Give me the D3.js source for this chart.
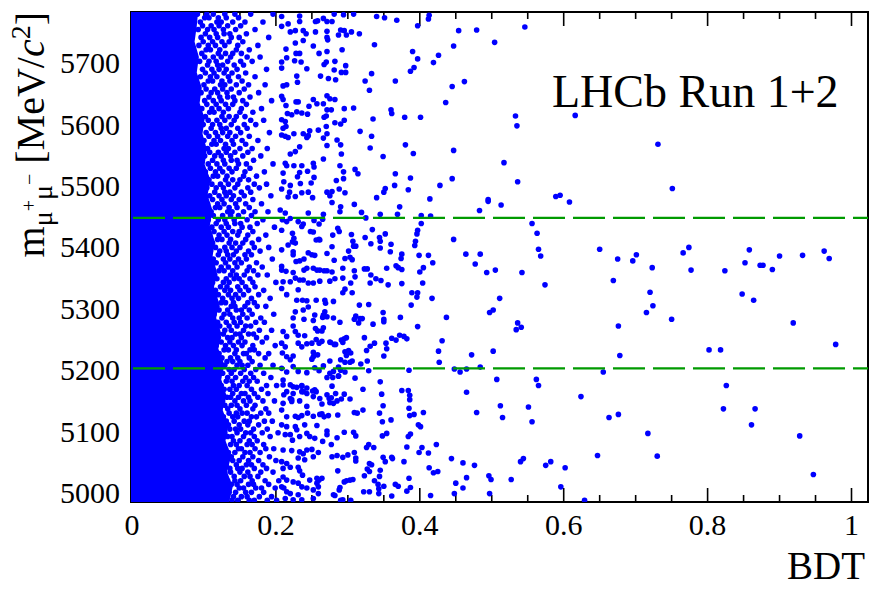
<!DOCTYPE html>
<html><head><meta charset="utf-8">
<script src="https://cdn.jsdelivr.net/npm/d3@7"></script>
<style>html,body{margin:0;padding:0;background:#fff}svg{display:block}
text{font-family:"Liberation Serif","DejaVu Serif","Noto Serif",serif}</style>
</head><body><svg id="c" width="872" height="589"></svg>
<script>
// ---------------- data ----------------
const xMajorTicks = [0, 0.2, 0.4, 0.6, 0.8, 1];
const xTickLabels = ["0", "0.2", "0.4", "0.6", "0.8", "1"];
const xMinorTicks = [0.05,0.1,0.15,0.25,0.3,0.35,0.45,0.5,0.55,0.65,0.7,0.75,0.85,0.9,0.95];
const yMajorTicks = [5000, 5100, 5200, 5300, 5400, 5500, 5600, 5700];
const yTickLabels = ["5000", "5100", "5200", "5300", "5400", "5500", "5600", "5700"];
const windowMass = [5203, 5448];
const xDomain = [-0.00139, 1.02293];
const yDomain = [4985.3, 5783.4];

// saturated (fully overlapping) region: BDT edge per mass
const coreMass = [4985,5010,5035,5060,5085,5110,5135,5160,5185,5210,5235,5260,5285,5310,5335,5360,5385,5410,5435,5460,5485,5510,5535,5560,5585,5610,5635,5660,5685,5710,5735,5760,5785];
const coreEdge = [0.135,0.140,0.132,0.138,0.130,0.134,0.126,0.131,0.124,0.128,0.120,0.124,0.117,0.121,0.114,0.118,0.112,0.115,0.108,0.112,0.105,0.109,0.101,0.104,0.098,0.101,0.094,0.097,0.090,0.093,0.087,0.090,0.092];

// dense band: [mass, bdt, bdt, ...]
const denseRows = [
[4988,.128,.139,.147,.163,.170,.188,.201],[4994,.141,.152,.160,.177,.194],[5001,.135,.144,.158,.166,.183],
[5008,.131,.149,.155,.172,.180,.199],[5014,.138,.146,.162,.169,.190],[5020,.133,.143,.151,.167,.185,.204],
[5027,.142,.156,.164,.175],[5034,.129,.137,.150,.161,.179,.196],[5040,.136,.147,.153,.170,.187],
[5046,.131,.145,.159,.166,.182],[5053,.140,.149,.162,.176,.200],[5059,.127,.138,.154,.168,.191],
[5066,.134,.143,.157,.164,.178],[5072,.130,.148,.152,.171,.186,.197],[5079,.137,.145,.160,.167,.183],
[5085,.125,.141,.150,.163,.174],[5092,.133,.139,.155,.170,.192],[5098,.129,.146,.158,.165,.181,.203],
[5104,.136,.144,.151,.169,.188],[5111,.124,.134,.149,.161,.176],[5117,.131,.142,.156,.163,.184,.195],
[5124,.127,.140,.147,.166,.173],[5130,.135,.145,.153,.160,.179,.190],[5137,.122,.133,.150,.168,.186],
[5143,.129,.138,.146,.159,.171],[5150,.126,.143,.155,.164,.182,.198],[5156,.132,.137,.148,.162,.175],
[5162,.121,.140,.152,.157,.170,.189],[5169,.128,.136,.145,.166,.180],[5175,.124,.141,.149,.160,.187,.201],
[5182,.131,.139,.154,.163,.174],[5188,.120,.133,.144,.158,.169,.193],[5195,.126,.138,.151,.165,.183],
[5201,.123,.135,.142,.156,.172],[5208,.129,.146,.153,.161,.178,.196],[5214,.118,.132,.140,.150,.167],
[5220,.125,.137,.147,.163,.185],[5227,.121,.143,.155,.159,.176,.190],[5233,.128,.134,.145,.164,.170],
[5240,.117,.130,.141,.153,.168,.199],[5246,.124,.136,.148,.157,.181],[5253,.120,.133,.139,.152,.173,.187],
[5259,.127,.144,.150,.162,.169],[5265,.116,.129,.138,.155,.177,.194],[5272,.122,.135,.146,.158,.165],
[5278,.119,.131,.142,.151,.172,.184],[5285,.125,.140,.149,.160,.179],[5291,.114,.128,.136,.154,.167,.197],
[5298,.121,.133,.145,.152,.163],[5304,.118,.138,.143,.157,.174,.186],[5310,.124,.130,.141,.161,.170],
[5317,.113,.126,.139,.148,.166,.192],[5323,.120,.134,.144,.155,.176],[5330,.116,.129,.137,.150,.162,.183],
[5336,.123,.132,.147,.158,.171],[5343,.112,.127,.135,.153,.168,.200],[5349,.118,.131,.142,.149,.164],
[5355,.115,.137,.145,.156,.175,.188],[5362,.121,.128,.140,.160,.169],[5368,.110,.124,.134,.146,.163,.181],
[5375,.117,.130,.143,.152,.173],[5381,.113,.127,.136,.148,.159,.195],[5388,.120,.133,.141,.157,.166],
[5394,.109,.122,.131,.145,.162,.178],[5400,.116,.129,.139,.150,.170,.190],[5407,.112,.135,.144,.154,.167],
[5413,.119,.125,.137,.158,.176],[5420,.108,.121,.132,.147,.161,.186],[5426,.114,.128,.140,.149,.168],
[5433,.111,.124,.134,.153,.164,.198],[5439,.117,.131,.143,.151,.174],[5445,.106,.120,.129,.142,.160,.182],
[5452,.113,.126,.137,.148,.166],[5458,.110,.133,.139,.155,.171,.189],[5465,.116,.122,.135,.146,.163],
[5471,.105,.119,.128,.144,.158,.180],[5478,.112,.125,.138,.149,.168],[5484,.108,.121,.131,.141,.156,.193],
[5490,.115,.129,.136,.152,.165],[5497,.104,.117,.127,.143,.161,.177],[5503,.111,.123,.134,.147,.170,.187],
[5510,.107,.130,.140,.150,.162],[5516,.113,.119,.132,.155,.173],[5523,.102,.116,.126,.139,.157,.184],
[5529,.109,.122,.135,.145,.164],[5536,.106,.118,.129,.148,.159,.196],[5542,.112,.127,.138,.146,.169],
[5549,.101,.115,.124,.137,.154,.179],[5555,.108,.120,.131,.143,.161],[5561,.105,.128,.134,.150,.167,.188],
[5568,.111,.117,.130,.141,.158],[5574,.100,.114,.123,.139,.153,.175],[5581,.107,.119,.133,.144,.163],
[5587,.103,.116,.126,.136,.151,.191],[5594,.110,.124,.131,.147,.160],[5600,.099,.112,.122,.138,.156,.172],
[5607,.106,.118,.129,.142,.165,.183],[5613,.102,.125,.135,.145,.157],[5620,.108,.114,.127,.150,.168],
[5626,.097,.111,.121,.134,.152,.180],[5633,.104,.117,.130,.140,.159],[5639,.101,.113,.124,.143,.154,.194],
[5645,.107,.122,.133,.141,.164],[5652,.096,.110,.119,.132,.149,.176],[5658,.103,.115,.126,.138,.156],
[5665,.100,.123,.129,.145,.162,.185],[5671,.106,.112,.125,.136,.153],[5678,.095,.109,.118,.134,.148,.171],
[5684,.102,.114,.128,.139,.158],[5690,.098,.111,.121,.131,.146,.187],[5697,.105,.119,.126,.142,.155],
[5703,.094,.107,.117,.133,.151,.167],[5710,.101,.113,.124,.137,.160,.178],[5716,.097,.120,.130,.140,.152],
[5722,.103,.109,.122,.145,.163],[5729,.093,.106,.116,.129,.147,.175],[5735,.099,.112,.125,.135,.154],
[5742,.096,.108,.119,.138,.149,.190],[5748,.102,.117,.128,.136,.159],[5755,.092,.105,.114,.127,.144,.171],
[5761,.098,.110,.121,.133,.151],[5767,.095,.118,.124,.140,.157,.182],[5774,.101,.107,.120,.131,.148],
[5780,.091,.104,.113,.129,.143,.165,.196]
];

// individual candidates [bdt, mass]
const candidatesUpper = [
[0.316,5748],[0.340,5776],[0.351,5774],[0.368,5770],[0.397,5761],[0.412,5772],[0.413,5778],[0.454,5753],[0.479,5754],[0.546,5759],
[0.504,5734],[0.447,5728],[0.337,5730],[0.390,5719],[0.397,5707],[0.426,5713],[0.419,5701],[0.392,5693],[0.387,5687],[0.333,5683],
[0.324,5671],[0.330,5656],[0.366,5671],[0.445,5662],[0.462,5670],[0.436,5636],[0.360,5624],[0.361,5618],[0.379,5612],[0.401,5612],
[0.335,5609],[0.533,5614],[0.535,5598],[0.317,5589],[0.333,5581],[0.331,5562],[0.380,5567],[0.391,5553],[0.447,5558],[0.349,5548],
[0.517,5538],[0.366,5520],[0.387,5513],[0.445,5512],[0.428,5501],[0.536,5507],[0.365,5501],[0.352,5496],[0.350,5490],[0.384,5494],
[0.340,5481],[0.414,5479],[0.495,5478],[0.589,5483],[0.595,5485],
[0.208,5776],[0.208,5760],[0.217,5764],[0.220,5751],[0.233,5777],[0.233,5768],[0.227,5753],[0.238,5753],[0.242,5748],[0.255,5768],
[0.258,5769],[0.266,5773],[0.271,5768],[0.278,5768],[0.281,5780],[0.294,5779],[0.308,5780],[0.255,5751],[0.271,5752],[0.287,5746],
[0.290,5754],[0.295,5753],[0.298,5746],[0.305,5751],[0.271,5742],[0.272,5738],[0.238,5737],[0.227,5733],[0.252,5728],[0.214,5723],
[0.215,5709],[0.208,5702],[0.208,5692],[0.228,5716],[0.233,5716],[0.226,5704],[0.235,5702],[0.243,5691],[0.260,5716],[0.271,5719],
[0.292,5722],[0.267,5698],[0.270,5702],[0.282,5703],[0.297,5696],[0.281,5689],[0.291,5685],[0.297,5685],[0.262,5679],[0.273,5675],
[0.283,5673],[0.229,5679],[0.230,5669],[0.210,5663],[0.215,5665],[0.208,5646],[0.210,5641],[0.214,5631],[0.228,5637],[0.231,5637],
[0.252,5641],[0.246,5630],[0.257,5634],[0.266,5634],[0.271,5647],[0.275,5642],[0.282,5641],[0.271,5624],[0.277,5624],[0.295,5626],
[0.308,5627],[0.216,5618],[0.222,5616],[0.229,5621],[0.236,5619],[0.244,5617],[0.267,5612],[0.270,5614],[0.282,5603],[0.295,5607],
[0.290,5601],[0.208,5608],[0.213,5605],[0.210,5594],[0.214,5597],[0.259,5591],[0.247,5590],[0.270,5597],[0.271,5585],[0.208,5583],
[0.213,5581],[0.217,5579],[0.225,5585],[0.238,5585],[0.243,5579],[0.245,5582],[0.266,5578],[0.285,5575],[0.290,5567],[0.233,5564],
[0.227,5556],[0.220,5552],[0.271,5566],[0.266,5544],[0.291,5552],[0.213,5537],[0.215,5533],[0.225,5533],[0.236,5533],[0.252,5537],
[0.253,5531],[0.289,5533],[0.294,5523],[0.310,5527],[0.314,5520],[0.210,5521],[0.233,5522],[0.244,5524],[0.230,5515],[0.253,5514],
[0.211,5507],[0.220,5501],[0.234,5504],[0.249,5505],[0.284,5509],[0.294,5512],[0.208,5495],[0.219,5490],[0.236,5489],[0.245,5490],
[0.271,5490],[0.275,5484],[0.288,5495],[0.296,5489],[0.217,5482],[0.227,5483],[0.278,5491],[0.251,5481]
];
const candidatesMiddle = [
[0.372,5466],[0.369,5454],[0.402,5452],[0.402,5439],[0.415,5451],[0.483,5460],[0.495,5475],[0.513,5469],[0.556,5439],[0.563,5423],
[0.565,5397],[0.568,5386],[0.574,5339],[0.397,5428],[0.396,5422],[0.394,5410],[0.393,5403],[0.447,5413],[0.464,5389],[0.484,5389],
[0.477,5373],[0.399,5387],[0.412,5387],[0.418,5375],[0.405,5367],[0.400,5360],[0.493,5359],[0.505,5363],[0.542,5359],[0.404,5342],
[0.389,5326],[0.397,5326],[0.396,5319],[0.417,5317],[0.388,5306],[0.511,5317],[0.497,5294],[0.502,5298],[0.437,5286],[0.397,5271],
[0.536,5277],[0.541,5270],[0.534,5266],[0.431,5248],[0.426,5231],[0.427,5213],[0.472,5225],[0.502,5231],[0.385,5200],[0.448,5202],
[0.456,5197],[0.465,5202],[0.484,5205],[0.507,5185],[0.562,5185],[0.565,5175],[0.465,5164],[0.375,5167],[0.384,5167],[0.386,5159],
[0.309,5470],[0.319,5457],[0.325,5448],[0.345,5454],[0.305,5421],[0.307,5410],[0.311,5402],[0.308,5402],[0.324,5416],[0.334,5429],
[0.332,5406],[0.344,5416],[0.352,5422],[0.345,5410],[0.345,5399],[0.360,5405],[0.301,5394],[0.303,5384],[0.306,5380],[0.296,5382],
[0.281,5379],[0.359,5393],[0.375,5389],[0.374,5382],[0.367,5370],[0.370,5367],[0.375,5364],[0.354,5366],[0.323,5365],[0.327,5365],
[0.309,5362],[0.310,5352],[0.293,5366],[0.293,5350],[0.332,5355],[0.339,5349],[0.346,5346],[0.356,5339],[0.375,5341],[0.331,5342],
[0.304,5342],[0.306,5326],[0.296,5332],[0.293,5326],[0.280,5312],[0.316,5306],[0.329,5307],[0.349,5294],[0.350,5283],[0.350,5279],
[0.335,5275],[0.311,5288],[0.309,5283],[0.317,5284],[0.320,5284],[0.315,5277],[0.289,5278],[0.280,5285],[0.373,5286],[0.361,5252],
[0.367,5249],[0.372,5257],[0.378,5255],[0.382,5251],[0.323,5253],[0.337,5244],[0.331,5239],[0.326,5232],[0.353,5244],[0.354,5235],
[0.295,5251],[0.298,5253],[0.291,5249],[0.293,5245],[0.283,5242],[0.276,5245],[0.350,5223],[0.296,5230],[0.301,5232],[0.304,5228],
[0.298,5224],[0.306,5215],[0.303,5213],[0.296,5213],[0.290,5217],[0.275,5215],[0.327,5215],[0.318,5210],[0.329,5199],[0.287,5205],
[0.290,5200],[0.280,5198],[0.287,5191],[0.296,5197],[0.310,5187],[0.321,5169],[0.345,5181],[0.347,5161],[0.278,5174],[0.283,5162],
[0.295,5161],[0.291,5153],
[0.206,5461],[0.213,5456],[0.209,5445],[0.215,5442],[0.220,5447],[0.231,5442],[0.238,5438],[0.236,5434],[0.245,5456],[0.253,5444],
[0.260,5438],[0.265,5446],[0.266,5454],[0.278,5473],[0.290,5466],[0.289,5458],[0.208,5428],[0.223,5423],[0.225,5415],[0.223,5409],
[0.217,5404],[0.227,5407],[0.248,5426],[0.252,5425],[0.260,5413],[0.256,5412],[0.261,5412],[0.279,5420],[0.288,5426],[0.286,5431],
[0.208,5396],[0.224,5393],[0.224,5388],[0.228,5377],[0.233,5378],[0.239,5381],[0.245,5391],[0.250,5388],[0.254,5387],[0.271,5390],
[0.278,5401],[0.208,5369],[0.208,5363],[0.214,5361],[0.224,5359],[0.227,5350],[0.233,5347],[0.238,5347],[0.239,5363],[0.243,5366],
[0.252,5366],[0.257,5363],[0.261,5363],[0.267,5362],[0.271,5362],[0.278,5360],[0.210,5344],[0.220,5344],[0.245,5342],[0.252,5342],
[0.261,5345],[0.275,5345],[0.282,5349],[0.231,5331],[0.208,5333],[0.215,5323],[0.229,5314],[0.237,5314],[0.243,5313],[0.245,5303],
[0.238,5298],[0.227,5295],[0.224,5285],[0.239,5283],[0.252,5281],[0.254,5290],[0.266,5290],[0.265,5286],[0.271,5287],[0.268,5295],
[0.268,5314],[0.269,5309],[0.256,5314],[0.224,5272],[0.227,5263],[0.210,5263],[0.215,5255],[0.208,5244],[0.213,5238],[0.209,5228],
[0.215,5222],[0.220,5217],[0.224,5223],[0.231,5257],[0.240,5256],[0.243,5243],[0.236,5238],[0.231,5244],[0.250,5244],[0.256,5250],
[0.260,5244],[0.264,5247],[0.252,5229],[0.258,5225],[0.252,5222],[0.250,5218],[0.266,5269],[0.264,5264],[0.258,5264],[0.255,5268],
[0.275,5246],[0.281,5242],[0.224,5206],[0.231,5198],[0.215,5197],[0.208,5203],[0.243,5196],[0.254,5204],[0.266,5207],[0.260,5199],
[0.275,5195],[0.279,5188],[0.287,5190],[0.271,5188],[0.210,5184],[0.220,5176],[0.215,5165],[0.224,5162],[0.236,5165],[0.243,5162],
[0.236,5175],[0.229,5172],[0.222,5152],[0.252,5157],[0.261,5154],[0.256,5165],[0.271,5160]
];
const candidatesLower = [
[0.479,5131],[0.512,5142],[0.515,5123],[0.551,5140],[0.556,5116],[0.405,5131],[0.392,5128],[0.386,5126],[0.386,5152],[0.385,5138],
[0.398,5111],[0.401,5108],[0.387,5096],[0.384,5092],[0.382,5075],[0.399,5066],[0.403,5074],[0.412,5065],[0.423,5079],[0.413,5041],
[0.419,5033],[0.425,5035],[0.444,5056],[0.460,5049],[0.476,5045],[0.465,5025],[0.450,5016],[0.460,5008],[0.448,4999],[0.415,4996],
[0.496,5028],[0.499,5022],[0.497,4999],[0.527,5022],[0.540,5051],[0.544,5056],[0.575,5045],[0.582,5051],[0.602,5041],[0.596,5010],
[0.378,5051],[0.385,5024],[0.387,5009],[0.382,5003],
[0.303,5153],[0.277,5155],[0.280,5146],[0.285,5150],[0.309,5131],[0.313,5130],[0.321,5135],[0.344,5130],[0.349,5142],[0.286,5127],
[0.273,5126],[0.264,5129],[0.267,5124],[0.348,5116],[0.360,5119],[0.308,5099],[0.311,5093],[0.295,5099],[0.348,5093],[0.354,5097],
[0.285,5090],[0.277,5079],[0.265,5084],[0.271,5101],[0.271,5095],[0.326,5074],[0.329,5079],[0.336,5074],[0.278,5059],[0.293,5058],
[0.285,5061],[0.309,5066],[0.311,5057],[0.311,5052],[0.300,5062],[0.330,5048],[0.333,5046],[0.327,5039],[0.330,5035],[0.323,5028],
[0.345,5037],[0.344,5027],[0.349,5058],[0.352,5051],[0.361,5058],[0.362,5056],[0.286,5036],[0.264,5024],[0.260,5021],[0.257,5016],
[0.303,5021],[0.298,5020],[0.295,5018],[0.307,5022],[0.289,5009],[0.288,5005],[0.282,4996],[0.280,4997],[0.337,5020],[0.342,5014],
[0.343,5007],[0.350,5011],[0.366,5014],[0.370,5011],[0.322,5002],[0.330,5002],[0.343,4999],[0.361,4995],[0.290,4988],[0.293,4989],
[0.304,4988],
[0.210,5176],[0.224,5173],[0.236,5174],[0.243,5171],[0.238,5165],[0.251,5166],[0.254,5168],[0.264,5145],[0.275,5147],[0.274,5154],
[0.211,5160],[0.220,5154],[0.210,5146],[0.222,5149],[0.233,5150],[0.243,5141],[0.244,5130],[0.252,5125],[0.261,5128],[0.208,5135],
[0.215,5124],[0.227,5125],[0.231,5123],[0.236,5126],[0.208,5111],[0.215,5108],[0.227,5108],[0.229,5103],[0.240,5111],[0.257,5110],
[0.213,5095],[0.220,5095],[0.223,5086],[0.233,5092],[0.243,5097],[0.247,5092],[0.254,5089],[0.210,5070],[0.222,5069],[0.233,5067],
[0.238,5064],[0.243,5070],[0.250,5071],[0.252,5059],[0.259,5066],[0.231,5057],[0.240,5054],[0.208,5051],[0.215,5048],[0.210,5040],
[0.220,5042],[0.231,5042],[0.233,5036],[0.237,5029],[0.247,5021],[0.257,5024],[0.210,5026],[0.215,5021],[0.224,5018],[0.231,5016],
[0.236,5010],[0.243,5008],[0.259,5010],[0.252,5005],[0.259,4999],[0.208,5010],[0.211,5008],[0.215,5002],[0.220,4999],[0.231,4997],
[0.236,4989],[0.252,4991],[0.224,4989],[0.213,4991]
];
const candidatesRight = [
[0.650,5397],[0.675,5381],[0.701,5388],[0.696,5378],[0.669,5346],[0.723,5367],[0.720,5327],[0.724,5305],[0.715,5294],[0.676,5272],
[0.678,5224],[0.750,5283],[0.766,5391],[0.774,5400],[0.777,5363],[0.802,5233],[0.818,5233],[0.824,5362],[0.826,5175],[0.848,5324],
[0.864,5314],[0.852,5375],[0.858,5396],[0.873,5371],[0.877,5371],[0.890,5364],[0.900,5386],[0.919,5277],[0.932,5387],[0.962,5394],
[0.969,5382],[0.978,5242],[0.655,5197],[0.624,5157],[0.608,5474],[0.663,5123],[0.676,5128],[0.647,5061],[0.717,5097],[0.730,5060],
[0.822,5137],[0.866,5137],[0.861,5111],[0.928,5093],[0.947,5030],[0.629,4988],[0.616,5615],[0.731,5568],[0.751,5496]
];

// ---------------- drawing ----------------
const W = 872, H = 589;
const L = 131, R = 868, T = 12, B = 502;
const svg = d3.select("#c");
const x = d3.scaleLinear().domain(xDomain).range([L, R]);
const y = d3.scaleLinear().domain(yDomain).range([B, T]);
const blue = "#0000ff";

svg.append("rect").attr("width", W).attr("height", H).attr("fill", "#fff");
svg.append("defs").append("clipPath").attr("id", "clip")
  .append("rect").attr("x", L).attr("y", T).attr("width", R - L).attr("height", B - T);

// frame
svg.append("rect").attr("x", L).attr("y", T).attr("width", R - L).attr("height", B - T)
  .attr("fill", "none").attr("stroke", "#000").attr("stroke-width", 2);

const tickG = svg.append("g").attr("stroke", "#000").attr("stroke-width", 1.6);
xMajorTicks.forEach(v => {
  tickG.append("line").attr("x1", x(v)).attr("x2", x(v)).attr("y1", B).attr("y2", B - 14);
  tickG.append("line").attr("x1", x(v)).attr("x2", x(v)).attr("y1", T).attr("y2", T + 14);
});
xMinorTicks.forEach(v => {
  tickG.append("line").attr("x1", x(v)).attr("x2", x(v)).attr("y1", B).attr("y2", B - 7);
  tickG.append("line").attr("x1", x(v)).attr("x2", x(v)).attr("y1", T).attr("y2", T + 7);
});
yMajorTicks.forEach(v => {
  tickG.append("line").attr("x1", L).attr("x2", L + 14).attr("y1", y(v)).attr("y2", y(v));
});

// tick labels
svg.append("g").selectAll("text").data(xMajorTicks).join("text")
  .attr("x", d => x(d)).attr("y", 535).attr("text-anchor", "middle")
  .attr("font-size", 30).attr("fill", "#000")
  .text((d, i) => xTickLabels[i]);
svg.append("g").selectAll("text").data(yMajorTicks).join("text")
  .attr("x", 120).attr("y", d => y(d) + 10).attr("text-anchor", "end")
  .attr("font-size", 30).attr("fill", "#000")
  .text((d, i) => yTickLabels[i]);

// data layer
const plot = svg.append("g").attr("clip-path", "url(#clip)");
const core = coreMass.map((m, i) => ({ m, e: coreEdge[i] }));
plot.append("path").datum(core)
  .attr("fill", blue)
  .attr("d", d3.area().y(d => y(d.m)).x0(x(xDomain[0])).x1(d => x(d.e)));

const pts = [];
denseRows.forEach(r => r.slice(1).forEach(b => pts.push([b, r[0]])));
[candidatesUpper, candidatesMiddle, candidatesLower, candidatesRight].forEach(a => a.forEach(p => pts.push(p)));
plot.append("g").selectAll("circle").data(pts).join("circle")
  .attr("cx", d => x(d[0])).attr("cy", d => y(d[1])).attr("r", 2.8).attr("fill", blue);

// mass window lines
svg.append("g").selectAll("line").data(windowMass).join("line")
  .attr("x1", L + 2).attr("x2", R).attr("y1", d => y(d)).attr("y2", d => y(d))
  .attr("stroke", "#009a00").attr("stroke-width", 2.4).attr("stroke-dasharray", "32,8");

// texts
svg.append("text").attr("x", 552).attr("y", 107)
  .attr("font-size", 46).attr("fill", "#000").text("LHCb Run 1+2");
svg.append("text").attr("x", 865).attr("y", 579).attr("text-anchor", "end")
  .attr("font-size", 39).attr("fill", "#000").text("BDT");

const yt = svg.append("text").attr("transform", "translate(44,12) rotate(-90)")
  .attr("text-anchor", "end").attr("font-size", 40).attr("fill", "#000");
yt.append("tspan").text("m");
yt.append("tspan").attr("font-size", 28).attr("dy", 8).text("μ");
yt.append("tspan").attr("font-size", 20).attr("dy", -16).text("+");
yt.append("tspan").attr("font-size", 28).attr("dy", 16).text("μ");
yt.append("tspan").attr("font-size", 20).attr("dy", -16).text("−");
yt.append("tspan").attr("font-size", 40).attr("dy", 8).text("\u00a0[MeV/");
yt.append("tspan").attr("font-style", "italic").text("c");
yt.append("tspan").attr("font-size", 28).attr("dy", -14).text("2");
yt.append("tspan").attr("font-size", 40).attr("dy", 14).text("]");
</script>
</body></html>
